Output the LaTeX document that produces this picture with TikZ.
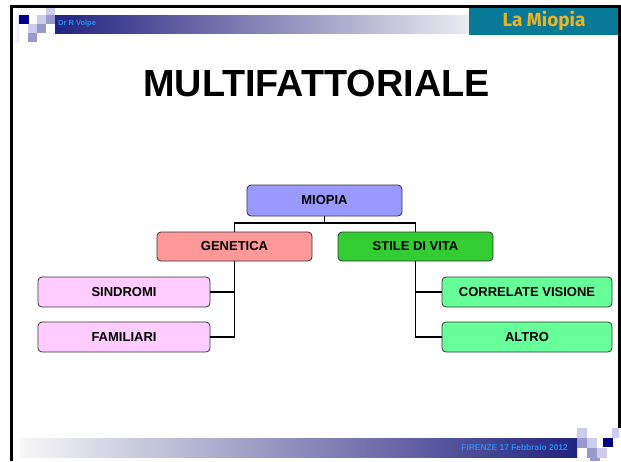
\documentclass[tikz,border=0pt]{standalone}
\usepackage{fontspec}
\setmainfont{Liberation Sans}
\newfontfamily\miofont{Fira Sans}
\definecolor{navy}{RGB}{0,0,128}
\definecolor{sqlight}{RGB}{204,204,236}
\definecolor{sqmed}{RGB}{153,153,204}
\definecolor{bandnavy}{RGB}{34,34,128}
\definecolor{bandlight}{RGB}{236,236,240}
\definecolor{teal}{RGB}{8,122,152}
\definecolor{gold}{RGB}{232,180,40}
\definecolor{hdrblue}{RGB}{40,140,240}
\definecolor{cmiopia}{RGB}{153,153,255}
\definecolor{cgen}{RGB}{255,153,153}
\definecolor{cstile}{RGB}{51,204,51}
\definecolor{cpink}{RGB}{255,204,255}
\definecolor{cgreen}{RGB}{102,255,153}
\tikzset{
  box/.style={draw=black!80, line width=0.8pt, rounded corners=4pt, inner sep=0pt,
    font=\fontsize{13}{15}\selectfont\bfseries, text=black},
  link/.style={draw=black, line width=1.6pt},
}
\begin{document}
\begin{tikzpicture}[x=1pt,y=-1pt]
\useasboundingbox (0,0) rectangle (621,461);
\fill[white] (0,0) rectangle (621,461);
% header band
\shade[left color=bandnavy, right color=bandlight] (55,15) rectangle (470,33);
\node[anchor=west, font=\fontsize{7.5}{9}\selectfont\bfseries, text=hdrblue, inner sep=0pt] (author) at (58,24) {Dr R Volpe};
% top-left squares
\shade[left color=white, right color=sqlight!50] (13,15) rectangle (19,42);
\fill[sqlight] (46,8) rectangle (55,15);
\fill[navy] (19,15) rectangle (29,24);
\fill[sqlight] (37,15) rectangle (46,24);
\fill[sqmed] (46,15) rectangle (55,24);
\fill[sqlight] (28,24) rectangle (37,33);
\fill[sqmed] (37,24) rectangle (46,33);
\fill[sqmed] (28,33) rectangle (37,42);
% La Miopia box
\fill[teal] (469,8) rectangle (619,35);
\node[font=\miofont\fontsize{19}{21}\selectfont\bfseries, text=gold, inner sep=0pt] (lamiopia) at (544,21) {La Miopia};
% footer band
\shade[left color=white!97!black, right color=bandnavy] (20,438) rectangle (577,457);
\node[anchor=east, font=\fontsize{8.4}{10}\selectfont\bfseries, text=hdrblue, inner sep=0pt] (firenze) at (568,447.5) {FIRENZE 17 Febbraio 2012};
% bottom-right squares
\fill[sqlight] (577,428) rectangle (587,438);
\fill[sqmed] (577,438) rectangle (587,448);
\fill[sqlight] (587,438) rectangle (597,448);
\fill[navy] (603,438) rectangle (613,447);
\fill[sqlight] (612,428) rectangle (619,438);
\fill[sqmed] (587,448) rectangle (597,458);
\fill[sqlight] (597,448) rectangle (607,458);
\fill[sqmed] (590,458) rectangle (600,461);
% border
\draw[line width=3pt] (11.5,461) -- (11.5,6) -- (619.5,6) -- (619.5,428);
% title
\node[font=\fontsize{37.8}{40}\selectfont\bfseries, inner sep=0pt] (title) at (316.5,83) {MULTIFATTORIALE};
% chart
\node[box, fill=cmiopia, minimum width=155pt, minimum height=31pt] (miopia) at (324.5,200.5) {MIOPIA};
\node[box, fill=cgen, minimum width=155pt, minimum height=29pt] (genetica) at (234.5,246.5) {GENETICA};
\node[box, fill=cstile, minimum width=155pt, minimum height=29pt] (stile) at (415.5,246.5) {STILE DI VITA};
\node[box, fill=cpink, minimum width=172pt, minimum height=30pt] (sindromi) at (124,292) {SINDROMI};
\node[box, fill=cpink, minimum width=172pt, minimum height=30pt] (familiari) at (124,337) {FAMILIARI};
\node[box, fill=cgreen, minimum width=170pt, minimum height=30pt] (correlate) at (527,292) {CORRELATE VISIONE};
\node[box, fill=cgreen, minimum width=170pt, minimum height=30pt] (altro) at (527,337) {ALTRO};
\coordinate (split) at (324.5,223);
\draw[link] (miopia.south) -- (split);
\draw[link] (genetica.north) |- (split) -| (stile.north);
\draw[link] (genetica.south) |- (familiari.east);
\draw[link] (sindromi.east) -| (genetica.south);
\draw[link] (stile.south) |- (altro.west);
\draw[link] (correlate.west) -| (stile.south);
\end{tikzpicture}
\end{document}
